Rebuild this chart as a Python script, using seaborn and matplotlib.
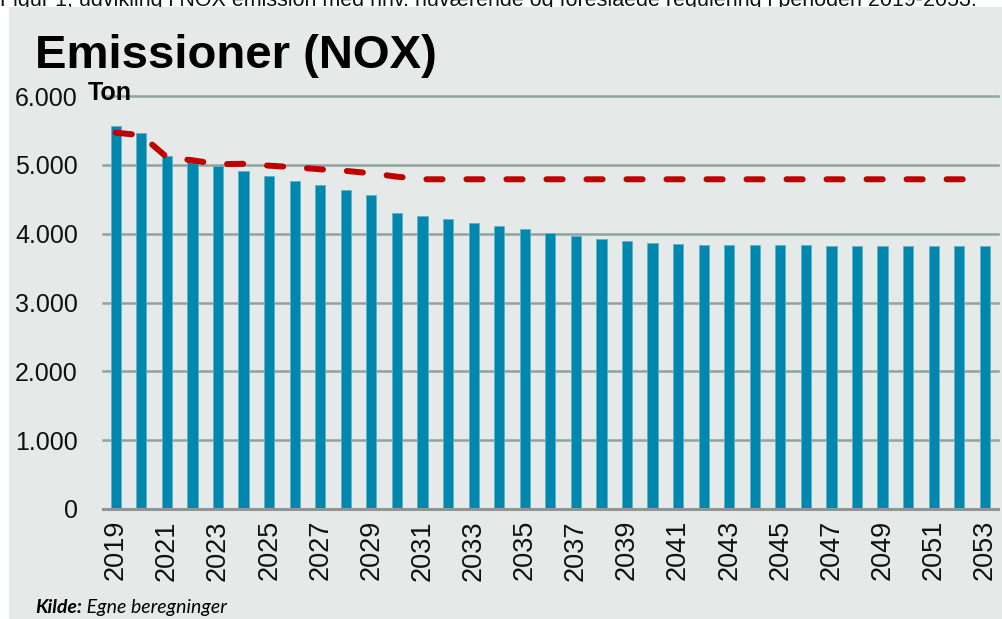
import numpy as np
import pandas as pd
import matplotlib
matplotlib.use("Agg")
import matplotlib.pyplot as plt
import seaborn as sns
from matplotlib.patches import Rectangle

# Data (tons NOX per year)
years = list(range(2019, 2054))
bar_values = [5565, 5460, 5130, 5060, 4990, 4910, 4840, 4770, 4705, 4630, 4560,
              4300, 4255, 4210, 4155, 4110, 4065, 4010, 3965, 3922, 3888, 3860,
              3846, 3840, 3836, 3835, 3831, 3830, 3826, 3825, 3822, 3821, 3821,
              3820, 3820]
line_values = [5467, 5430, 5110, 5066, 5010, 5015, 4988, 4965, 4935, 4912, 4877,
               4828, 4790, 4790, 4790, 4790, 4790, 4790, 4790, 4790, 4790, 4790,
               4790, 4790, 4790, 4790, 4790, 4790, 4790, 4790, 4790, 4790, 4790,
               4790, 4790]
y_ticks = [0, 1000, 2000, 3000, 4000, 5000, 6000]
y_tick_labels = ["0", "1.000", "2.000", "3.000", "4.000", "5.000", "6.000"]

bg = "#e5e9e8"
bar_color = "#0087ae"
line_color = "#c00000"

plt.rcParams["font.family"] = ["Liberation Sans", "DejaVu Sans"]

df = pd.DataFrame({"year": [str(y) for y in years], "value": bar_values,
                   "pos": np.arange(len(years)), "line": line_values})

fig = plt.figure(figsize=(10.02, 6.19), dpi=100, facecolor="white")
W, H = 1002, 619
# grey panel, the page is cropped so a white strip shows left and top
fig.patches.append(Rectangle((9 / W, 0), 1, (H - 7) / H, transform=fig.transFigure,
                             facecolor=bg, edgecolor="none", zorder=-1))

# caption sitting above the crop, only its lower part visible
fig.text(0.0, (H - 6) / H, "Figur 1; udvikling i NOX emission med hhv. nuværende og "
         "foreslåede regulering i perioden 2019-2053.", fontsize=15.5,
         ha="left", va="baseline", color="#111111", zorder=-2)

ax = fig.add_axes([103 / W, (H - 509) / H, 894.6 / W, 413 / H])
ax.set_facecolor(bg)

sns.barplot(data=df, x="year", y="value", color=bar_color, width=0.4,
            edgecolor="#5fb2ca", linewidth=0.6, saturation=1, ax=ax, zorder=2)
sns.lineplot(data=df, x="pos", y="line", color=line_color, linewidth=4.3, ax=ax,
             zorder=3)
ln = ax.lines[-1]
ln.set_dashes([2.7, 4.0])
ln.set_dash_capstyle("round")

ax.set_xlim(-0.5, len(years) - 0.5)
ax.set_ylim(0, 6000)
ax.set_yticks(y_ticks)
ax.set_yticklabels(y_tick_labels)
ax.set_xticks(np.arange(0, len(years), 2))
ax.set_xticklabels([str(y) for y in years[::2]], rotation=90)
ax.tick_params(axis="y", length=0, pad=18, labelsize=18, colors="#111111")
ax.tick_params(axis="x", length=0, pad=8, labelsize=19.5, colors="#111111")
ax.set_xlabel("")
ax.set_ylabel("")

ax.grid(False)
for y in y_ticks[1:]:
    ax.axhline(y, color="#8fa49e", linewidth=1.8, zorder=1, clip_on=False)
for s in ["top", "right", "left"]:
    ax.spines[s].set_visible(False)
ax.spines["bottom"].set_color("#8e9592")
ax.spines["bottom"].set_linewidth(2.2)
ax.spines["bottom"].set_zorder(4)

fig.text(35 / W, (H - 68) / H, "Emissioner (NOX)", fontsize=34, fontweight="bold",
         ha="left", va="baseline")
fig.text(88 / W, (H - 100) / H, "Ton", fontsize=18, fontweight="bold",
         ha="left", va="baseline")

t1 = fig.text(35 / W, (H - 613) / H, "Kilde:", fontsize=14, fontweight="bold",
              style="italic", family=["Lato", "DejaVu Sans"], ha="left", va="baseline")
ax.annotate(" Egne beregninger", xy=(1, 0), xycoords=t1, fontsize=14, style="italic",
            family=["Lato", "DejaVu Sans"], ha="left", va="bottom",
            annotation_clip=False)

fig.savefig("out.png", dpi=100, facecolor="white")
